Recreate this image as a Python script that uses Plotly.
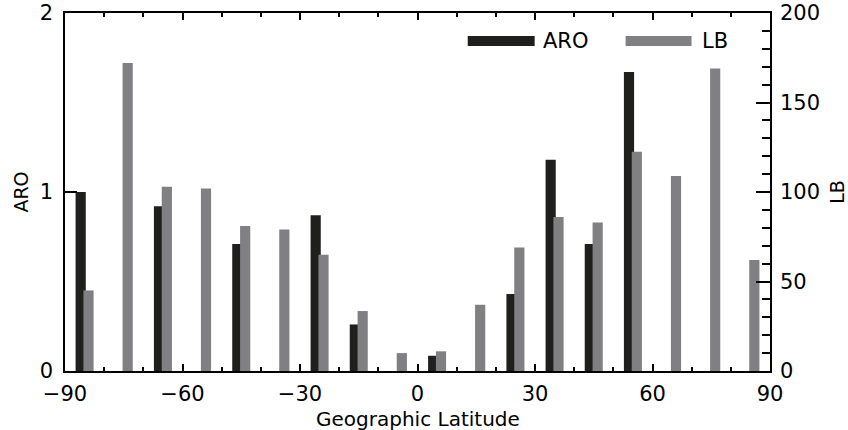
import plotly.graph_objects as go

# ---- data ----
lat_centers = [-85, -75, -65, -55, -45, -35, -25, -15, -5, 5, 15, 25, 35, 45, 55, 65, 75, 85]
aro_values = [1.00, 0, 0.92, 0, 0.71, 0, 0.87, 0.26, 0, 0.085, 0, 0.43, 1.18, 0.71, 1.67, 0, 0, 0]
lb_values = [45, 172, 103, 102, 81, 79, 65, 33.5, 10, 11, 37, 69, 86, 83, 122.5, 109, 169, 62]
x_ticks = [-90, -60, -30, 0, 30, 60, 90]
aro_ticks = [0, 1, 2]
lb_ticks = [0, 50, 100, 150, 200]

ARO_COLOR = "#1f1f1d"
LB_COLOR = "#808083"
FONT = "DejaVu Sans"

fig = go.Figure()
fig.add_trace(go.Bar(x=lat_centers, y=aro_values, name="ARO", marker=dict(color=ARO_COLOR, line=dict(width=0)),
                     offset=-2.3, width=2.6, yaxis="y"))
fig.add_trace(go.Bar(x=lat_centers, y=lb_values, name="LB", marker=dict(color=LB_COLOR, line=dict(width=0)),
                     offset=-0.3, width=2.6, yaxis="y2"))

L, R, T, B = 65, 77.5, 13, 59
W, H = 848, 430
pw = W - L - R
ph = H - T - B

def px(xp):
    return (xp - L) / pw

def py(yp):
    return (H - B - yp) / ph

fig.update_layout(
    width=W, height=H,
    margin=dict(l=L, r=R, t=T, b=B, pad=0, autoexpand=False),
    paper_bgcolor="white", plot_bgcolor="white",
    barmode="overlay", showlegend=False,
    font=dict(family=FONT, size=21, color="black"),
    xaxis=dict(range=[-90, 90], tickvals=x_ticks, ticks="inside", ticklen=7, tickwidth=1.5,
               tickcolor="black", showline=True, linecolor="black", linewidth=1.5, mirror="ticks",
               showgrid=False, zeroline=False, ticklabelstandoff=3, automargin=False,
               minor=dict(dtick=10, ticks="inside", ticklen=4, tickwidth=1.5, tickcolor="black", showgrid=False)),
    yaxis=dict(range=[0, 2], tickvals=aro_ticks, ticks="inside", ticklen=12, tickwidth=1.5,
               tickcolor="black", showline=True, linecolor="black", linewidth=1.5,
               showgrid=False, zeroline=False, ticklabelstandoff=6, automargin=False,
               title=dict(text="ARO", font=dict(size=19), standoff=6)),
    yaxis2=dict(range=[0, 200], tickvals=lb_ticks, overlaying="y", side="right", ticks="inside",
                ticklen=14, tickwidth=1.5, tickcolor="black", showline=True, linecolor="black",
                linewidth=1.5, showgrid=False, zeroline=False, ticklabelstandoff=4, automargin=False,
                minor=dict(dtick=10, ticks="inside", ticklen=8, tickwidth=1.5, tickcolor="black", showgrid=False),
                title=dict(text="LB", font=dict(size=19), standoff=16)),
)

# x-axis title placed as an annotation for precise vertical placement
fig.add_annotation(xref="paper", yref="paper", x=px(418), y=py(419), text="Geographic Latitude",
                   showarrow=False, xanchor="center", yanchor="middle",
                   font=dict(size=20, family=FONT, color="black"))

# legend drawn manually (long bar swatches like the original)
leg_y = py(41)
fig.add_shape(type="line", xref="paper", yref="paper", x0=px(468), x1=px(535), y0=leg_y, y1=leg_y,
              line=dict(color=ARO_COLOR, width=10))
fig.add_shape(type="line", xref="paper", yref="paper", x0=px(626), x1=px(692), y0=leg_y, y1=leg_y,
              line=dict(color=LB_COLOR, width=10))
fig.add_annotation(xref="paper", yref="paper", x=px(541), y=leg_y, text="ARO", showarrow=False,
                   xanchor="left", yanchor="middle", font=dict(size=21, family=FONT, color="black"))
fig.add_annotation(xref="paper", yref="paper", x=px(700), y=leg_y, text="LB", showarrow=False,
                   xanchor="left", yanchor="middle", font=dict(size=21, family=FONT, color="black"))

fig.write_html("out.html", config={"displayModeBar": False},
               post_script="document.body.style.margin='0';document.body.style.overflow='hidden';")
